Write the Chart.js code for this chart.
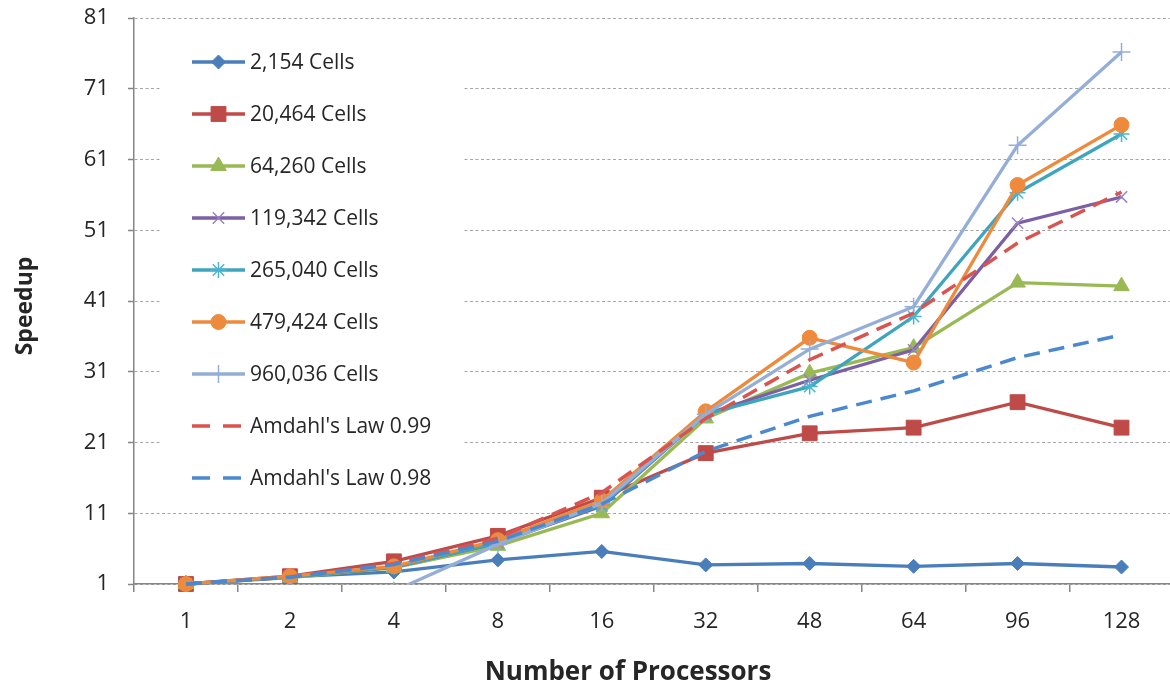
<!DOCTYPE html>
<html>
<head>
<meta charset="utf-8">
<title>Speedup vs Number of Processors</title>
<script src="https://cdn.jsdelivr.net/npm/chart.js@4/dist/chart.umd.min.js"></script>
<style>
  html, body { margin: 0; padding: 0; background: #ffffff; overflow: hidden; }
  #wrap { position: absolute; left: 0; top: 0; width: 1185px; height: 688px; }
  #chart { display: block; }
</style>
</head>
<body>
<div id="wrap"><canvas id="chart" width="1185" height="688" style="width:1185px;height:688px"></canvas></div>
<script>
// Processor counts along the x axis
const processors = ['1', '2', '4', '8', '16', '32', '48', '64', '96', '128'];

// Speedup axis ticks
const speedupTicks = [1, 11, 21, 31, 41, 51, 61, 71, 81];

// Measured speedup per mesh size
const cells2154   = [1, 2.0, 2.7, 4.4, 5.6, 3.7, 3.9, 3.5, 3.9, 3.4];
const cells20464  = [1, 2.1, 4.2, 7.8, 13.2, 19.5, 22.3, 23.1, 26.7, 23.1];
const cells64260  = [1, 1.9, 3.3, 6.4, 11.0, 24.4, 30.8, 34.4, 43.6, 43.1];
const cells119342 = [1, 2.0, 3.4, 6.8, 12.0, 25.0, 29.8, 34.1, 52.0, 55.7];
const cells265040 = [1, 2.0, 3.4, 6.8, 12.2, 25.0, 28.9, 38.8, 56.3, 64.6];
const cells479424 = [1, 2.1, 3.5, 7.2, 12.8, 25.4, 35.8, 32.3, 57.4, 65.9];
const cells960036 = [0, 0, 0, 6.6, 12.4, 25.0, 34.2, 40.2, 63.0, 76.2];

// Amdahl's law reference curves
const amdahl099 = [1, 1.98, 3.88, 7.48, 13.9, 24.4, 32.7, 39.3, 49.2, 56.4];
const amdahl098 = [1, 1.96, 3.77, 7.02, 12.3, 19.75, 24.7, 28.3, 33.0, 36.2];

const FONT = "'Open Sans', 'Liberation Sans', sans-serif";
const TEXT = '#262626';
const AXIS = '#868686';

function series(label, data, color, pointStyle, radius, extra) {
  return Object.assign({
    label: label,
    data: data,
    borderColor: color,
    backgroundColor: color,
    borderWidth: 3.3,
    tension: 0,
    pointStyle: pointStyle,
    pointRadius: radius,
    pointHoverRadius: radius,
    pointBackgroundColor: color,
    pointBorderColor: color,
    pointBorderWidth: 1,
    clip: false
  }, extra || {});
}

const datasets = [
  series('2,154 Cells',   cells2154,   '#4A7EBB', 'rectRot', 7),
  series('20,464 Cells',  cells20464,  '#BE4B48', 'rect', 10.5),
  series('64,260 Cells',  cells64260,  '#98B954', 'triangle', 9),
  series('119,342 Cells', cells119342, '#7D5FA3', 'crossRot', 8, { pointBorderColor: '#9883C0', pointBorderWidth: 1.5 }),
  series('265,040 Cells', cells265040, '#3FA5BE', 'star', 8, { pointBorderColor: '#4BB5D0', pointBorderWidth: 1.5 }),
  series('479,424 Cells', cells479424, '#EE8A3C', 'circle', 7.5),
  series('960,036 Cells', cells960036, '#94AED8', 'cross', 9, { pointBorderWidth: 1.5, clip: 0 }),
  series("Amdahl's Law 0.99", amdahl099, '#D9534F', 'circle', 0, { borderDash: [16, 9], borderWidth: 3.5 }),
  series("Amdahl's Law 0.98", amdahl098, '#4A89CF', 'circle', 0, { borderDash: [16, 9], borderWidth: 3.5 })
];
// later series sit on top of earlier ones
datasets.forEach((ds, i) => { ds.order = -i; });

// Legend drawn inside the plot on a white panel
const insetLegend = {
  id: 'insetLegend',
  beforeDatasetsDraw(chart) {
    const { ctx, chartArea } = chart;
    const bx = chartArea.left + 26, by = chartArea.top + 14;
    ctx.save();
    ctx.fillStyle = '#ffffff';
    ctx.fillRect(bx, by, 302, 470);
    ctx.font = '21px ' + FONT;
    ctx.textBaseline = 'middle';
    ctx.textAlign = 'left';
    chart.data.datasets.forEach((ds, i) => {
      const y = chartArea.top + 44 + i * 52;
      const x0 = bx + 32, x1 = x0 + 53, xm = (x0 + x1) / 2;
      ctx.strokeStyle = ds.borderColor;
      ctx.lineWidth = ds.borderWidth;
      ctx.lineCap = 'butt';
      if (ds.borderDash) {
        ctx.setLineDash([18, 13]);
        ctx.beginPath(); ctx.moveTo(x0, y); ctx.lineTo(x0 + 49, y); ctx.stroke();
        ctx.setLineDash([]);
      } else {
        ctx.beginPath(); ctx.moveTo(x0, y); ctx.lineTo(x1, y); ctx.stroke();
      }
      if (ds.pointRadius > 0) {
        ctx.fillStyle = ds.pointBackgroundColor;
        ctx.strokeStyle = ds.pointBorderColor;
        ctx.lineWidth = ds.pointBorderWidth;
        Chart.helpers.drawPoint(ctx, {
          pointStyle: ds.pointStyle, radius: ds.pointRadius,
          borderWidth: ds.pointBorderWidth, rotation: 0
        }, xm, y);
      }
      ctx.fillStyle = TEXT;
      ctx.fillText(ds.label, x1 + 5, y + 1);
    });
    ctx.restore();
  }
};

// Axis titles
const axisTitles = {
  id: 'axisTitles',
  afterDraw(chart) {
    const { ctx, chartArea } = chart;
    ctx.save();
    ctx.fillStyle = TEXT;
    ctx.textAlign = 'center';
    ctx.textBaseline = 'middle';
    ctx.font = 'bold 26px ' + FONT;
    ctx.fillText('Number of Processors', 628, 673);
    ctx.font = 'bold 23px ' + FONT;
    ctx.translate(25, 306);
    ctx.rotate(-Math.PI / 2);
    ctx.fillText('Speedup', 0, 0);
    ctx.restore();
  }
};

new Chart(document.getElementById('chart'), {
  type: 'line',
  data: { labels: processors, datasets: datasets },
  options: {
    responsive: false,
    animation: false,
    events: [],
    layout: { padding: { top: 18, left: 0, right: 0, bottom: 0 } },
    plugins: { legend: { display: false }, tooltip: { enabled: false } },
    scales: {
      x: {
        type: 'category',
        offset: true,
        afterFit(scale) {
          scale.height = 104;
          scale.paddingLeft = 0;
          scale.paddingRight = 0;
        },
        grid: {
          offset: true, drawOnChartArea: false, drawTicks: true,
          tickLength: 8, color: AXIS, lineWidth: 1.5
        },
        border: { color: AXIS, width: 1.5 },
        ticks: { color: TEXT, font: { family: FONT, size: 22 }, padding: 17, maxRotation: 0, autoSkip: false }
      },
      y: {
        type: 'linear',
        min: speedupTicks[0],
        max: speedupTicks[speedupTicks.length - 1],
        afterFit(scale) {
          scale.width = 134;
          scale.paddingTop = 0;
          scale.paddingBottom = 0;
        },
        afterBuildTicks(scale) { scale.ticks = speedupTicks.map(v => ({ value: v })); },
        grid: {
          color: '#A6A6A6', lineWidth: 1, drawTicks: true, tickLength: 6,
          tickColor: AXIS, tickWidth: 1.5
        },
        border: { color: AXIS, width: 1.5, dash: [3, 2.5] },
        ticks: { color: TEXT, font: { family: FONT, size: 22 }, padding: 19 }
      }
    }
  },
  plugins: [insetLegend, axisTitles]
});
</script>
</body>
</html>
